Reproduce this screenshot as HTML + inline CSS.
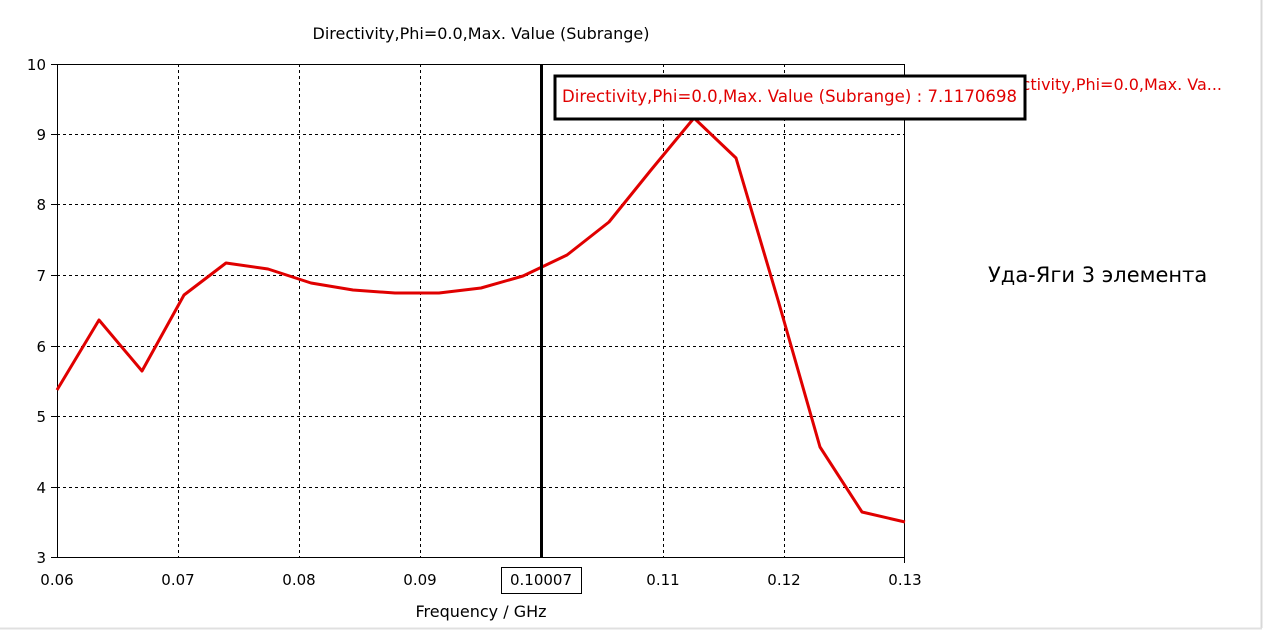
<!DOCTYPE html>
<html><head><style>
html,body{margin:0;padding:0;background:#fff;}
svg text{font-family:"DejaVu Sans","Liberation Sans",sans-serif;}
</style></head><body>
<svg width="1270" height="632" xmlns="http://www.w3.org/2000/svg">
<rect width="1270" height="632" fill="#fff"/>
<line x1="1261.5" y1="0" x2="1261.5" y2="628" stroke="#d8d8d8" stroke-width="2"/>
<line x1="0" y1="628.5" x2="1262" y2="628.5" stroke="#e0e0e0" stroke-width="2"/>
<text x="481" y="39" font-size="16" text-anchor="middle" fill="#000">Directivity,Phi=0.0,Max. Value (Subrange)</text>
<g stroke="#000" stroke-width="1" stroke-dasharray="3,3">
<line x1="178.5" y1="64" x2="178.5" y2="557"/>
<line x1="299.5" y1="64" x2="299.5" y2="557"/>
<line x1="420.5" y1="64" x2="420.5" y2="557"/>
<line x1="663.5" y1="64" x2="663.5" y2="557"/>
<line x1="784.5" y1="64" x2="784.5" y2="557"/>
<line x1="57" y1="134.5" x2="905" y2="134.5"/>
<line x1="57" y1="204.5" x2="905" y2="204.5"/>
<line x1="57" y1="275.5" x2="905" y2="275.5"/>
<line x1="57" y1="346.5" x2="905" y2="346.5"/>
<line x1="57" y1="416.5" x2="905" y2="416.5"/>
<line x1="57" y1="487.5" x2="905" y2="487.5"/>
</g>
<rect x="57.5" y="64.5" width="847" height="493" fill="none" stroke="#000" stroke-width="1"/>
<g stroke="#000"><line x1="51" y1="64.5" x2="57" y2="64.5"/><line x1="51" y1="134.5" x2="57" y2="134.5"/><line x1="51" y1="204.5" x2="57" y2="204.5"/><line x1="51" y1="275.5" x2="57" y2="275.5"/><line x1="51" y1="346.5" x2="57" y2="346.5"/><line x1="51" y1="416.5" x2="57" y2="416.5"/><line x1="51" y1="487.5" x2="57" y2="487.5"/><line x1="51" y1="557.5" x2="57" y2="557.5"/>
<line x1="904.5" y1="557" x2="904.5" y2="563"/></g>
<g font-size="15" text-anchor="end" fill="#000">
<text x="46" y="70">10</text><text x="46" y="140">9</text><text x="46" y="210">8</text><text x="46" y="281">7</text><text x="46" y="352">6</text><text x="46" y="422">5</text><text x="46" y="493">4</text><text x="46" y="563">3</text>
</g>
<g font-size="15" text-anchor="middle" fill="#000">
<text x="57" y="585">0.06</text><text x="178" y="585">0.07</text><text x="299" y="585">0.08</text><text x="420" y="585">0.09</text><text x="663" y="585">0.11</text><text x="784" y="585">0.12</text><text x="905" y="585">0.13</text>
<text x="481" y="617" font-size="16">Frequency / GHz</text>
</g>
<rect x="501.5" y="567.5" width="80" height="26" fill="#fff" stroke="#000"/>
<text x="541" y="585" font-size="15" text-anchor="middle">0.10007</text>
<polyline fill="none" stroke="#e00000" stroke-width="3" stroke-linejoin="round" points="57,390 99,320 142,371 184,295 226,263 268,269 311,283 353,290 395,293 439,293 481,288 523,276 567,255 609,222 651,170 694,118 736,158 778,300 820,447 862,512 905,522"/>
<line x1="541.5" y1="64" x2="541.5" y2="557" stroke="#000" stroke-width="3"/>
<text x="1222" y="90" font-size="16" fill="#e00000" text-anchor="end">Directivity,Phi=0.0,Max. Va...</text>
<rect x="555" y="76" width="470" height="43" fill="#fff" stroke="#000" stroke-width="3"/>
<text x="562" y="102" font-size="16.5" fill="#e00000" textLength="455">Directivity,Phi=0.0,Max. Value (Subrange) : 7.1170698</text>
<text x="988" y="282" font-size="21" fill="#000">Уда-Яги 3 элемента</text>
</svg>
</body></html>
